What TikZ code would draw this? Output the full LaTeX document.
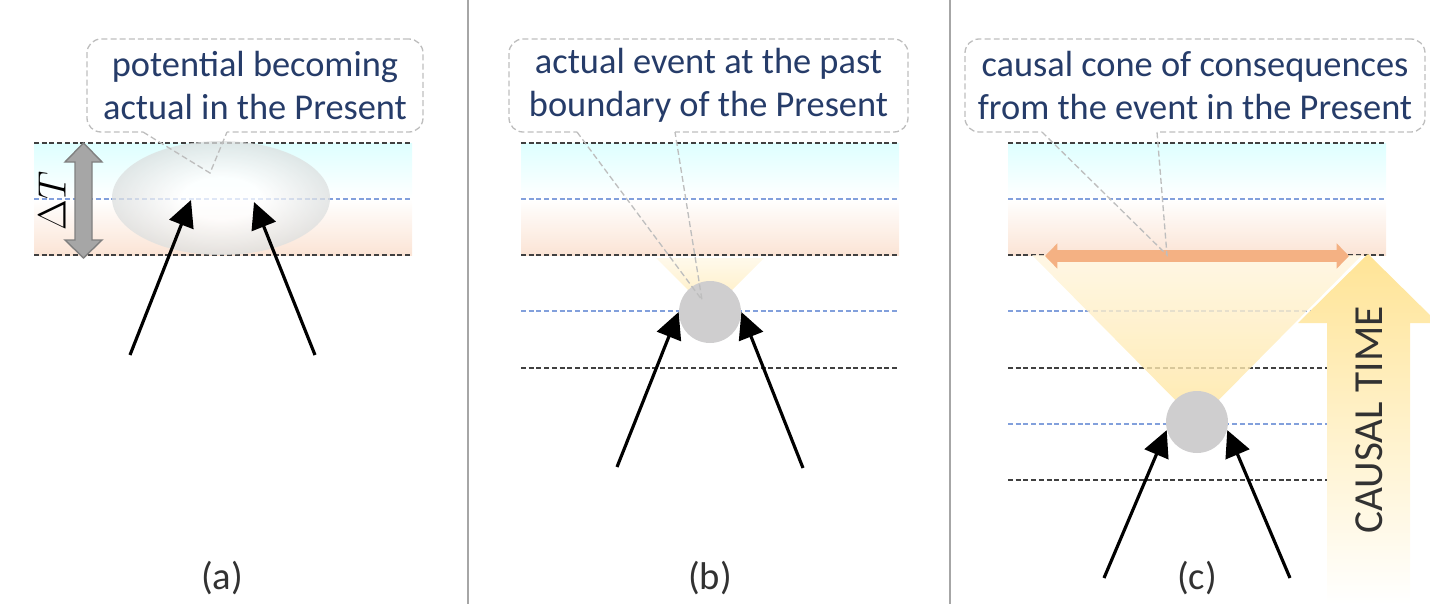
\documentclass[tikz,border=0pt]{standalone}
\usepackage[no-math]{fontspec}
\setmainfont{Carlito}
\usetikzlibrary{arrows.meta,shapes.geometric}

\definecolor{bandcyan}{RGB}{222,255,255}
\definecolor{bandpeach}{RGB}{251,228,213}
\definecolor{calltext}{RGB}{38,60,105}
\definecolor{callgray}{RGB}{190,190,190}
\definecolor{midblue}{RGB}{130,160,220}
\definecolor{edgegray}{RGB}{64,64,64}
\definecolor{ellgray}{RGB}{220,223,223}
\definecolor{eventgray}{RGB}{207,206,207}
\definecolor{conetop}{RGB}{255,245,222}
\definecolor{conebot}{RGB}{255,228,155}
\definecolor{timegold}{RGB}{255,228,150}
\definecolor{spanorange}{RGB}{244,177,131}
\definecolor{labeltext}{RGB}{50,50,50}

% white core fading to a light grey rim
\pgfdeclareradialshading{glow}{\pgfpoint{0bp}{0bp}}{color(0bp)=(white); color(9bp)=(white); color(25bp)=(ellgray); color(50bp)=(ellgray)}

\begin{document}
\begin{tikzpicture}[x=0.2mm, y=-0.2mm,
    edge/.style={edgegray, line width=0.7pt, dash pattern=on 2.8pt off 1.6pt},
    mid/.style={midblue, line width=0.7pt, dash pattern=on 2.8pt off 1.6pt},
    callout/.style={draw=callgray, line width=0.75pt, dash pattern=on 3.4pt off 1.8pt,
        rounded corners=8pt, align=center, text=calltext, inner sep=0pt,
        minimum height=1.86cm, font=\fontsize{20.7pt}{24.8pt}\selectfont},
    pointer/.style={callgray, line width=0.75pt, dash pattern=on 3.4pt off 1.8pt},
    event/.style={circle, fill=eventgray, minimum size=1.24cm, inner sep=0pt},
    cause/.style={-{Triangle[length=15pt,width=14.5pt]}, line width=1.8pt},
    panel/.style={text=labeltext, font=\fontsize{22pt}{26pt}\selectfont}]
    \useasboundingbox (0,0) rectangle (1430,604);

    % panel separators
    \draw[gray!70, line width=0.6pt] (468,0) -- (468,604);
    \draw[gray!70, line width=0.6pt] (950,0) -- (950,604);

    % the Present: future half (cyan) over past half (peach)
    \foreach \bx in {34,521,1008} {
        \shade[top color=bandcyan, middle color=bandcyan!80, bottom color=white] (\bx,143) rectangle ++(378,56);
        \shade[top color=white, bottom color=bandpeach] (\bx,199) rectangle ++(378,56);
        \draw[edge] (\bx,143) -- ++(378,0);
        \draw[mid] (\bx,199) -- ++(378,0);
        \draw[edge] (\bx,255) -- ++(378,0);
    }

    % earlier slices below the Present
    \draw[mid] (521,311) -- (899,311);
    \draw[edge] (521,368) -- (899,368);
    \draw[mid] (1008,311) -- (1327,311);
    \draw[edge] (1008,368) -- (1327,368);
    \draw[mid] (1008,424) -- (1327,424);
    \draw[edge] (1008,480) -- (1327,480);

    % (a) the potential, still blurred
    \node[ellipse, minimum width=4.36cm, minimum height=2.28cm,
        shade, shading=glow, opacity=0.75] (blur) at (221,198) {};

    % cones of consequences
    \shade[top color=conetop!60, bottom color=conebot!70] (710,312) -- (656,258) -- (764,258) -- cycle;
    \shade[top color=conetop, bottom color=conebot, opacity=0.8] (1197,422) -- (1032,255) -- (1362,255) -- cycle;

    % causal time arrow
    \shade[top color=timegold, bottom color=white]
        (1368,254) -- (1438,323) -- (1410,323) -- (1410,604) -- (1327,604) -- (1327,323) -- (1298,323) -- cycle;
    \node[rotate=90, text=labeltext, font=\fontsize{23.5pt}{28pt}\selectfont] (time) at (1369,420) {CAUSAL TIME};

    % actual events
    \node[event] (evb) at (710,312) {};
    \node[event] (evc) at (1197,422) {};

    % incoming causes
    \coordinate (a-l) at (130,355);
    \coordinate (a-l-tip) at (191,200);
    \coordinate (a-r) at (315,355);
    \coordinate (a-r-tip) at (254,202);
    \coordinate (b-l) at (617,467);
    \coordinate (b-r) at (803,468);
    \coordinate (c-l) at (1104,578);
    \coordinate (c-r) at (1290,578);
    \draw[cause] (a-l) -- (a-l-tip);
    \draw[cause] (a-r) -- (a-r-tip);
    \draw[cause] (b-l) -- (evb.west);
    \draw[cause] (b-r) -- (evb.east);
    \draw[cause] (c-l) -- (evc.195);
    \draw[cause] (c-r) -- (evc.-15);

    % spread of the cone at the past boundary
    \coordinate (span-l) at (1045,256);
    \coordinate (span-r) at (1349,256);
    \draw[spanorange, line width=7pt, {Triangle[length=7pt,width=14pt]}-{Triangle[length=7pt,width=14pt]}] (span-l) -- (span-r);

    % callouts
    \node[callout, minimum width=6.72cm] (say-a) at (255,85.5) {potential becoming\\actual in the Present};
    \node[callout, minimum width=7.98cm] (say-b) at (708.5,85.5) {actual event at the past\\boundary of the Present};
    \node[callout, minimum width=9.2cm] (say-c) at (1195,85.5) {causal cone of consequences\\from the event in the Present};

    \coordinate (say-a-1) at (143,132);
    \coordinate (say-a-2) at (227,132);
    \coordinate (say-a-tip) at (210,173);
    \coordinate (say-b-1) at (577,132);
    \coordinate (say-b-2) at (675,132);
    \coordinate (say-b-tip) at (702,300);
    \coordinate (say-c-1) at (1042,132);
    \coordinate (say-c-2) at (1157,132);
    \coordinate (say-c-tip) at (1167,255);
    \foreach \k in {a,b,c} {
        \draw[white, line width=1.6pt] (say-\k-1) -- (say-\k-2);
        \draw[pointer] (say-\k-1) -- (say-\k-tip) -- (say-\k-2);
    }

    % Delta T
    \filldraw[fill=gray!70, draw=gray, line width=0.8pt]
        (83.5,143) -- (102,162) -- (92,162) -- (92,240) -- (102,240) -- (83.5,258)
        -- (65,240) -- (75,240) -- (75,162) -- (65,162) -- cycle;
    \node[rotate=90, scale=1.085, font=\fontsize{20.74pt}{25pt}\selectfont] (dt) at (52,201) {$\Delta T$};

    % panel labels
    \node[panel] (lab-a) at (222,578) {(a)};
    \node[panel] (lab-b) at (710,578) {(b)};
    \node[panel] (lab-c) at (1197,578) {(c)};
\end{tikzpicture}
\end{document}
